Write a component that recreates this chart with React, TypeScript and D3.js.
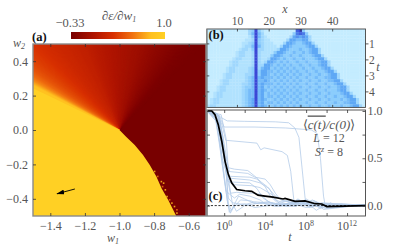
import React, { useEffect, useRef } from "react";
import * as d3 from "d3";

// panel (a): colour stops of the colour bar
const barFractions = [0, 0.25, 0.45, 0.65, 0.85, 1];
const barColors = ["#780000", "#b01500", "#d83000", "#f07010", "#ffc020", "#ffd024"];

// panel (a): value of the fan around (-1, 0), one entry every 2.5 degrees from 45 degrees
const fanValues = [
  -0.33, -0.32, -0.31, -0.3, -0.28, -0.26, -0.24, -0.22, -0.2, -0.18, -0.16,
  -0.14, -0.12, -0.1, -0.09, -0.08, -0.06, -0.05, -0.04, -0.02, -0.01, 0.01,
  0.02, 0.04, 0.05, 0.07, 0.09, 0.11, 0.12, 0.14, 0.15, 0.17, 0.18, 0.2,
  0.22, 0.24, 0.27, 0.3, 0.33, 0.37, 0.42, 0.5, 0.62, 0.82,
];

// panel (a): yellow region outline
const yellowEdge = [
  [-1.5, 0.243], [-1.0, 0.0], [-0.962, -0.039], [-0.912, -0.087], [-0.864, -0.145],
  [-0.825, -0.203], [-0.787, -0.27], [-0.757, -0.338], [-0.719, -0.406], [-0.69, -0.464],
  [-0.672, -0.5], [-1.5, -0.5],
];
const speckles = [
  [-0.797, -0.241], [-0.779, -0.27], [-0.758, -0.3], [-0.745, -0.309], [-0.751, -0.329],
  [-0.735, -0.348], [-0.725, -0.387], [-0.71, -0.406], [-0.697, -0.425], [-0.682, -0.445],
  [-0.668, -0.464], [-0.668, -0.483],
];
const arrowFrom = [-1.258, -0.343];
const arrowTo = [-1.361, -0.371];

const w1Ticks = [-1.4, -1.2, -1.0, -0.8, -0.6];
const w2Ticks = [-0.4, -0.2, 0.0, 0.2, 0.4];

// panel (b): one string per time row, one digit per site (1..50), groups of ten
const lightCone = [
  "0000000000 0002393100 0000000089 3000000000 0000000000",
  "0000000000 0002494200 0000000378 7300000000 0000000000",
  "0000000000 0001394210 0000002565 6520000000 0000000000",
  "0000000000 0011293211 0000025544 5520000000 0000000000",
  "0000000000 0112393211 1000255433 4552000000 0000000000",
  "0000000000 0122494211 1102554333 3455200000 0000000000",
  "0000000000 1221392211 1125543334 3345520000 0000000000",
  "0000000001 2211292111 1355433433 4345520000 0000000000",
  "0000000001 2211292111 3554334334 3334552000 0000000000",
  "0000000012 2111292112 5543433433 4333455200 0000000000",
  "0000000122 1111292125 5434343343 3433345520 0000000000",
  "0000000122 1111292255 4343434334 3343345520 0000000000",
  "0000001221 1112392455 3434343433 4334334552 0000000000",
  "0000001221 1112393554 4343434343 3433433455 2000000000",
  "0000012211 1122393554 3434343434 3343343345 5200000000",
  "0000012211 1123494544 4343434343 3433433445 5200000000",
  "0000122111 1123494454 3434343434 3343343344 5520000000",
  "0000122111 1223494544 4343434343 3433433433 4552000000",
  "0001221111 1233494534 3434343434 3343343343 3455200000",
  "0001221111 1234494543 4343434343 3433433433 3455200000",
  "0012211111 1234494534 3434343434 3343343343 3345520000",
  "0012211111 1234494534 4343434343 3433433433 4334552000",
  "0122111111 1234594543 3434343434 3343343343 3343455200",
  "0122111111 1234594534 4343434343 3433433433 4334455200",
  "1221111111 1234594543 3434343434 3343343343 3343345520",
];
const xTicks = [10, 20, 30, 40];
const tTicks = [1, 2, 3, 4];

// panel (c): [log10 t, c(t)/c(0)]
const meanCurve = [
  [-1.68, 1], [-1.22, 1], [-0.9, 0.96], [-0.58, 0.855], [-0.24, 0.68], [0.08, 0.47], [0.4, 0.33],
  [0.73, 0.24], [1.22, 0.17], [2.03, 0.157], [2.69, 0.15], [3.3, 0.11], [3.99, 0.1], [4.77, 0.09],
  [5.75, 0.07], [5.94, 0.075], [6.92, 0.045], [7.9, 0.05], [8.88, 0.02], [9.53, 0.017],
  [10.02, -0.01], [11.8, -0.005], [13.8, 0],
];
const thinA = [[-1.68, 1], [-0.8, 0.98], [-0.3, 0.93], [0.3, 0.895], [2, 0.89], [5, 0.885], [6.3, 0.875], [6.9, 0.82], [7.3, 0.72], [7.6, 0.4], [7.9, 0.08], [8.1, 0], [8.6, -0.02], [9.2, 0.03], [10, 0], [12, 0.01], [13.8, 0]];
const thinB = [[-1.68, 1], [-0.5, 0.95], [0, 0.83], [3, 0.83], [6, 0.82], [8.5, 0.8], [9.1, 0.76], [9.4, 0.5], [9.7, 0.1], [9.9, -0.02], [10.4, 0.03], [11, -0.02], [13.8, 0.01]];
const thinC = [[-1.68, 1], [-0.7, 0.97], [-0.2, 0.85], [0.15, 0.69], [3.2, 0.66], [3.57, 0.59], [3.9, 0.61], [5.65, 0.57], [6.17, 0.53], [6.5, 0.36], [6.82, 0.04], [7.2, 0.07], [8, 0.02], [8.6, 0.06], [9.6, 0.01], [13.8, 0]];
const thinD = [[-1.68, 1], [-0.5, 0.95], [0, 0.65], [0.4, 0.4], [1, 0.385], [2.3, 0.37], [3, 0.31], [3.6, 0.25], [4.2, 0.2], [5, 0.1], [5.8, 0.05], [7, 0.03], [8.5, 0.03], [9.5, 0], [11, -0.01], [13.8, 0]];
const thinE = [[-1.68, 1], [-0.6, 0.94], [-0.1, 0.62], [0.5, 0.36], [2.3, 0.34], [3, 0.3], [4, 0.28], [4.5, 0.22], [5, 0.13], [5.5, 0.06], [7, 0.02], [8.2, 0.05], [9.4, -0.03], [10.5, 0.01], [13.8, -0.01]];
const thinF = [[-1.68, 1], [-0.7, 0.93], [-0.1, 0.55], [0.5, 0.31], [2.5, 0.3], [3.2, 0.28], [4, 0.2], [4.5, 0.1], [5.2, 0.03], [6.5, 0.06], [7.5, 0.01], [9, 0.04], [10, -0.02], [13.8, 0.01]];
const thinG = [[-1.68, 1], [-0.6, 0.9], [0, 0.5], [0.5, 0.29], [2.5, 0.27], [3.5, 0.24], [4.4, 0.18], [5, 0.06], [6, 0.02], [7, 0.05], [8.4, 0], [9.8, 0.02], [13.8, 0]];
const thinH = [[-1.68, 1], [-0.8, 0.9], [-0.2, 0.5], [0.5, 0.25], [2.5, 0.24], [3.2, 0.18], [3.8, 0.08], [4.5, 0.03], [6, 0.01], [7.4, 0.04], [9, -0.01], [11, 0.01], [13.8, 0]];
const thinI = [[-1.68, 1], [-0.7, 0.88], [-0.2, 0.45], [0.2, 0.15], [1, 0.08], [1.5, 0.12], [2.5, 0.1], [3.5, 0.06], [4, 0.02], [5, -0.01], [6.5, 0.03], [8, -0.02], [10, 0.02], [13.8, 0]];
const thinJ = [[-1.68, 1], [-0.6, 0.9], [-0.2, 0.5], [0.3, 0.05], [0.6, -0.08], [1, 0], [2, 0.02], [3, -0.02], [5, 0.01], [8, 0.04], [9, -0.05], [10, 0.02], [11, -0.02], [12, 0.01], [13.8, 0]];
const thinK = [[-1.68, 1], [-0.4, 0.9], [0.1, 0.5], [0.4, 0.02], [0.7, -0.05], [1.4, 0.1], [2, 0.07], [3, 0.02], [4.2, 0.04], [6, 0], [7.8, 0.03], [10, -0.03], [13.8, 0.01]];
const thinL = [[-1.68, 1], [-0.9, 0.95], [-0.4, 0.6], [0.1, 0.2], [0.5, -0.07], [0.9, -0.02], [1.6, 0.06], [2.6, 0.05], [3.3, 0.02], [4.5, 0.03], [6, -0.01], [9.2, 0.02], [13.8, -0.01]];
const thinM = [[-1.68, 1], [-0.3, 0.96], [0.2, 0.7], [0.5, 0.22], [0.8, 0.02], [1.2, -0.06], [2, 0], [3.5, 0.03], [5.5, -0.01], [7.2, 0.06], [8.3, -0.02], [9.5, 0.03], [13.8, 0]];
const thinN = [[-1.68, 1], [-0.5, 0.93], [0.1, 0.4], [0.6, 0.13], [1.2, 0.14], [2.8, 0.13], [3.6, 0.12], [4.2, 0.05], [5, 0.01], [6.8, 0.02], [8.8, 0.05], [9.7, -0.04], [13.8, 0.01]];
const thinO = [[-1.68, 1], [-0.6, 0.95], [-0.1, 0.72], [0.4, 0.08], [0.8, 0.03], [2, 0.01], [3, 0.04], [5, 0.02], [7, -0.01], [8, 0.07], [9, 0.01], [11.5, 0.02], [13.8, 0]];
const thinP = [[-1.68, 1], [-0.7, 0.97], [-0.3, 0.8], [0.3, 0.26], [1, 0.22], [2.7, 0.21], [3.5, 0.19], [4.6, 0.12], [5.4, 0.02], [6.6, 0.01], [8.6, 0.03], [10.2, -0.01], [13.8, 0]];
const thinSeries = [thinA, thinB, thinC, thinD, thinE, thinF, thinG, thinH, thinI, thinJ, thinK, thinL, thinM, thinN, thinO, thinP];

const tLabelDecades = [0, 4, 8, 12];
const cTicks = [0, 0.25, 0.5, 0.75, 1];
const cLabels = [0, 0.5, 1];

const serif = "'Liberation Serif', serif";
const grey = "#555";

// plot boxes
const boxA = { left: 33, right: 206, top: 44, bottom: 216 };
const boxB = { left: 206.8, right: 365.5, top: 29, bottom: 107.4 };
const boxC = { left: 207, right: 365.5, top: 110, bottom: 216 };

export default function App() {
  const svgRef = useRef<SVGSVGElement>(null);

  useEffect(() => {
    const svg = d3.select(svgRef.current);
    svg.selectAll("*").remove();

    const defs = svg.append("defs");
    const grad = defs.append("linearGradient").attr("id", "bar");
    barFractions.forEach((f, i) => {
      grad.append("stop").attr("offset", f).attr("stop-color", barColors[i]);
    });
    defs.append("clipPath").attr("id", "clipA").append("rect")
      .attr("x", boxA.left).attr("y", boxA.top)
      .attr("width", boxA.right - boxA.left).attr("height", boxA.bottom - boxA.top);
    defs.append("clipPath").attr("id", "clipB").append("rect")
      .attr("x", boxB.left).attr("y", boxB.top)
      .attr("width", boxB.right - boxB.left).attr("height", boxB.bottom - boxB.top);
    defs.append("clipPath").attr("id", "clipC").append("rect")
      .attr("x", boxC.left).attr("y", boxC.top)
      .attr("width", boxC.right - boxC.left).attr("height", boxC.bottom - boxC.top);
    defs.append("filter").attr("id", "soft").attr("x", 0).attr("y", 0).attr("width", 1).attr("height", 1)
      .append("feGaussianBlur").attr("stdDeviation", 0.7);
    defs.append("marker").attr("id", "head").attr("viewBox", "0 0 10 6")
      .attr("refX", 9).attr("refY", 3).attr("markerWidth", 8).attr("markerHeight", 5)
      .attr("markerUnits", "userSpaceOnUse").attr("orient", "auto")
      .append("path").attr("d", "M0,0L10,3L0,6Z").attr("fill", "#000");

    /* ---------- panel (a) ---------- */
    const xA = d3.scaleLinear().domain([-1.5, -0.5]).range([boxA.left, boxA.right]);
    const yA = d3.scaleLinear().domain([-0.5, 0.5]).range([boxA.bottom, boxA.top]);
    const heat = d3.scaleLinear<string>()
      .domain(barFractions.map((f) => -0.33 + 1.33 * f))
      .range(barColors)
      .clamp(true);

    const a = svg.append("g").attr("clip-path", "url(#clipA)");
    a.append("rect").attr("x", boxA.left).attr("y", boxA.top)
      .attr("width", boxA.right - boxA.left).attr("height", boxA.bottom - boxA.top)
      .attr("fill", heat(-0.33));

    // the fan table is shaded like a gradient: half degree wedges, each painted
    // on to the yellow side so later ones cover it and no seams show
    const wedge = d3.arc();
    const shade = d3.piecewise(d3.interpolateNumber, fanValues);
    const fanAngle = d3.scaleLinear().domain([0, 1]).range([45, 45 + (fanValues.length - 1) * 2.5]);
    const fanSteps = d3.range(0, 1.0001, 0.5 / ((fanValues.length - 1) * 2.5));
    a.append("g")
      .attr("transform", `translate(${xA(-1)},${yA(0)})`)
      .selectAll("path")
      .data(fanSteps)
      .join("path")
      .attr("d", (u) =>
        wedge({
          innerRadius: 0,
          outerRadius: 320,
          startAngle: ((90 - 175) * Math.PI) / 180,
          endAngle: ((90 - fanAngle(u)) * Math.PI) / 180,
        })
      )
      .attr("fill", (u) => heat(shade(u)));

    const outline = d3.line().x((d) => xA(d[0])).y((d) => yA(d[1]));
    a.selectAll(".speck")
      .data(speckles)
      .join("rect")
      .attr("class", "speck")
      .attr("x", (d) => xA(d[0]) - 0.8)
      .attr("y", (d) => yA(d[1]) - 0.8)
      .attr("width", 1.6)
      .attr("height", 1.6)
      .attr("fill", (_, i) => (i % 3 === 1 ? "#e06010" : "#f0a018"));
    a.append("path").attr("d", outline(yellowEdge as [number, number][]) + "Z").attr("fill", heat(1));
    a.append("line")
      .attr("x1", xA(arrowFrom[0])).attr("y1", yA(arrowFrom[1]))
      .attr("x2", xA(arrowTo[0])).attr("y2", yA(arrowTo[1]))
      .attr("stroke", "#000").attr("stroke-width", 0.9)
      .attr("marker-end", "url(#head)");

    svg.append("rect").attr("x", boxA.left).attr("y", boxA.top)
      .attr("width", boxA.right - boxA.left).attr("height", boxA.bottom - boxA.top)
      .attr("fill", "none").attr("stroke", "#8a8a8a").attr("stroke-width", 1.4);

    const styleAxis = (g: any, size = 12) => {
      g.select(".domain").remove();
      g.selectAll("line").attr("stroke", "#333").attr("stroke-width", 0.8);
      g.selectAll("text").attr("font-family", serif).attr("font-size", size).attr("fill", grey);
    };
    const fmt = d3.format(".1f");

    svg.append("g").attr("transform", `translate(0,${boxA.bottom})`)
      .call(d3.axisBottom(xA).tickValues(w1Ticks).tickSize(-3).tickPadding(5).tickFormat(fmt as any))
      .call(styleAxis);
    svg.append("g").attr("transform", `translate(0,${boxA.top})`)
      .call(d3.axisTop(xA).tickValues(w1Ticks).tickSize(-3).tickFormat(() => ""))
      .call(styleAxis);
    svg.append("g").attr("transform", `translate(${boxA.left},0)`)
      .call(d3.axisLeft(yA).tickValues(w2Ticks).tickSize(-3).tickPadding(5).tickFormat(fmt as any))
      .call(styleAxis);
    svg.append("g").attr("transform", `translate(${boxA.right},0)`)
      .call(d3.axisRight(yA).tickValues(w2Ticks).tickSize(-3).tickFormat(() => ""))
      .call(styleAxis);

    svg.append("rect").attr("x", 71).attr("y", 32).attr("width", 94).attr("height", 7).attr("fill", "url(#bar)");

    const label = (x: number, y: number, text: string, opts: any = {}) =>
      svg.append("text").attr("x", x).attr("y", y).text(text)
        .attr("font-family", serif)
        .attr("font-size", opts.size ?? 12)
        .attr("font-style", opts.italic ? "italic" : "normal")
        .attr("font-weight", opts.bold ? "bold" : "normal")
        .attr("text-anchor", opts.anchor ?? "middle")
        .attr("fill", opts.fill ?? grey);
    const sub = (node: any, text: string, dy: number, size = 8) =>
      node.append("tspan").attr("dy", dy).attr("font-size", size).text(text);

    const title = label(119, 19.5, "∂ε/∂w", { italic: true, size: 13 });
    sub(title, "1", 2);
    label(70, 27, "−0.33", { size: 12.5 });
    label(164, 27, "1.0", { size: 12.5 });
    label(32, 41, "(a)", { bold: true, anchor: "start", fill: "#111", size: 12.5 });
    sub(label(19, 47, "w", { italic: true }), "2", 2);
    sub(label(113, 242, "w", { italic: true }), "1", 2);

    /* ---------- panel (b) ---------- */
    const sites = d3.range(1, 51);
    const rows = d3.range(lightCone.length);
    const xCell = d3.scaleBand<number>().domain(sites).range([boxB.left, boxB.right]);
    const tCell = d3.scaleBand<number>().domain(rows).range([boxB.top, boxB.bottom]);
    const xB = d3.scaleLinear().domain([0.5, 50.5]).range([boxB.left, boxB.right]);
    const tB = d3.scaleLinear().domain([0.1, 5]).range([boxB.top, boxB.bottom]);
    const blues = d3.scaleLinear<string>()
      .domain([0, 3, 5, 7, 9])
      .range(["#c4ecff", "#8ccdfc", "#5ea8f5", "#4a7ce8", "#3a48d6"]);

    const b = svg.append("g").attr("clip-path", "url(#clipB)").append("g").attr("filter", "url(#soft)");
    lightCone.forEach((row, r) => {
      const digits = row.replace(/ /g, "");
      b.selectAll(`.r${r}`)
        .data(sites)
        .join("rect")
        .attr("class", `r${r}`)
        .attr("x", (s) => xCell(s)!)
        .attr("y", tCell(r)!)
        .attr("width", xCell.bandwidth() + 0.3)
        .attr("height", tCell.bandwidth() + 0.3)
        .attr("fill", (s) => blues(+digits[s - 1]));
    });

    const frame = (box: typeof boxB) => {
      svg.append("rect").attr("x", box.left).attr("y", box.top)
        .attr("width", box.right - box.left).attr("height", box.bottom - box.top)
        .attr("fill", "none").attr("stroke", "#444").attr("stroke-width", 0.9);
      svg.append("line").attr("x1", box.left).attr("x2", box.left).attr("y1", box.top).attr("y2", box.bottom)
        .attr("stroke", "#8a8a8a").attr("stroke-width", 1.4);
    };
    frame(boxB);

    const intFmt = d3.format("d");
    svg.append("g").attr("transform", `translate(0,${boxB.top})`)
      .call(d3.axisTop(xB).tickValues(xTicks).tickSize(-2.5).tickPadding(4).tickFormat(intFmt as any))
      .call(styleAxis, 11.5);
    svg.append("g").attr("transform", `translate(0,${boxB.bottom})`)
      .call(d3.axisBottom(xB).tickValues(xTicks).tickSize(-2.5).tickFormat(() => ""))
      .call(styleAxis);
    svg.append("g").attr("transform", `translate(${boxB.left},0)`)
      .call(d3.axisLeft(tB).tickValues(tTicks).tickSize(-2.5).tickFormat(() => ""))
      .call(styleAxis);
    svg.append("g").attr("transform", `translate(${boxB.right},0)`)
      .call(d3.axisRight(tB).tickValues(tTicks).tickSize(3).tickPadding(0.5).tickFormat(intFmt as any))
      .call(styleAxis, 11.5);
    label(285, 13, "x", { italic: true });
    label(378, 71, "t", { italic: true });
    label(208.5, 38.5, "(b)", { bold: true, anchor: "start", fill: "#111", size: 12.5 });

    /* ---------- panel (c) ---------- */
    const xC = d3.scaleLog().domain([10 ** -1.68, 10 ** 13.8]).range([boxC.left, boxC.right]);
    const yC = d3.scaleLinear().domain([-0.11, 1.01]).range([boxC.bottom, boxC.top]);
    svg.append("rect").attr("x", boxC.left).attr("y", boxC.top)
      .attr("width", boxC.right - boxC.left).attr("height", boxC.bottom - boxC.top).attr("fill", "#fff");

    const curve = d3.line().x((d) => xC(10 ** d[0])).y((d) => yC(d[1]));
    const c = svg.append("g").attr("clip-path", "url(#clipC)");
    c.selectAll(".thin")
      .data(thinSeries)
      .join("path")
      .attr("class", "thin")
      .attr("d", (d) => curve(d as [number, number][]))
      .attr("fill", "none")
      .attr("stroke", "#b4cbe8")
      .attr("stroke-width", 0.8);
    c.append("line")
      .attr("x1", boxC.left).attr("x2", boxC.right).attr("y1", yC(0)).attr("y2", yC(0))
      .attr("stroke", "#000").attr("stroke-width", 0.8).attr("stroke-dasharray", "2.2,1.6");
    c.append("path")
      .attr("d", curve(meanCurve as [number, number][]))
      .attr("fill", "none").attr("stroke", "#000").attr("stroke-width", 1.7);
    frame(boxC);

    const decadeTicks = [0, 2, 4, 6, 8, 10, 12].map((d) => 10 ** d);
    svg.append("g").attr("transform", `translate(0,${boxC.bottom})`)
      .call(d3.axisBottom(xC).tickValues(decadeTicks).tickSize(-3).tickFormat(() => ""))
      .call(styleAxis);
    svg.append("g").attr("transform", `translate(0,${boxC.top})`)
      .call(d3.axisTop(xC).tickValues(decadeTicks).tickSize(-3).tickFormat(() => ""))
      .call(styleAxis);
    svg.append("g").attr("transform", `translate(${boxC.left},0)`)
      .call(d3.axisLeft(yC).tickValues(cTicks).tickSize(-3).tickFormat(() => ""))
      .call(styleAxis);
    svg.append("g").attr("transform", `translate(${boxC.right},0)`)
      .call(d3.axisRight(yC).tickValues(cTicks).tickSize(-3).tickFormat(() => ""))
      .call(styleAxis);
    cLabels.forEach((v) => label(367.5, yC(v) + 4, fmt(v), { anchor: "start" }));
    tLabelDecades.forEach((d) => {
      const t = label(xC(10 ** d), 230, "10", { size: 12 });
      sub(t, String(d), -4);
    });
    label(290, 241, "t", { italic: true });
    label(208.5, 199.5, "(c)", { bold: true, anchor: "start", fill: "#111", size: 12.5 });

    const avg = svg.append("text").attr("x", 329).attr("y", 128.5)
      .attr("font-family", serif).attr("font-size", 13).attr("text-anchor", "middle").attr("fill", grey);
    avg.append("tspan").text("⟨");
    avg.append("tspan").attr("font-style", "italic").attr("text-decoration", "overline").text("c(t)");
    avg.append("tspan").attr("font-style", "italic").text("/c(0)");
    avg.append("tspan").text("⟩");
    const size = label(329, 142.3, "", { size: 12 });
    size.append("tspan").attr("font-style", "italic").text("L");
    size.append("tspan").attr("dx", 3).text("= 12");
    const spin = label(329, 156.2, "", { size: 12 });
    spin.append("tspan").attr("font-style", "italic").text("S");
    spin.append("tspan").attr("font-style", "italic").attr("font-size", 8).attr("dy", -4).text("z");
    spin.append("tspan").attr("dy", 4).attr("dx", 3).text("= 8");
  }, []);

  return (
    <svg
      ref={svgRef}
      width={399}
      height={247}
      viewBox="0 0 399 247"
      style={{ position: "absolute", left: 0, top: 0, display: "block", background: "#fff" }}
    />
  );
}
